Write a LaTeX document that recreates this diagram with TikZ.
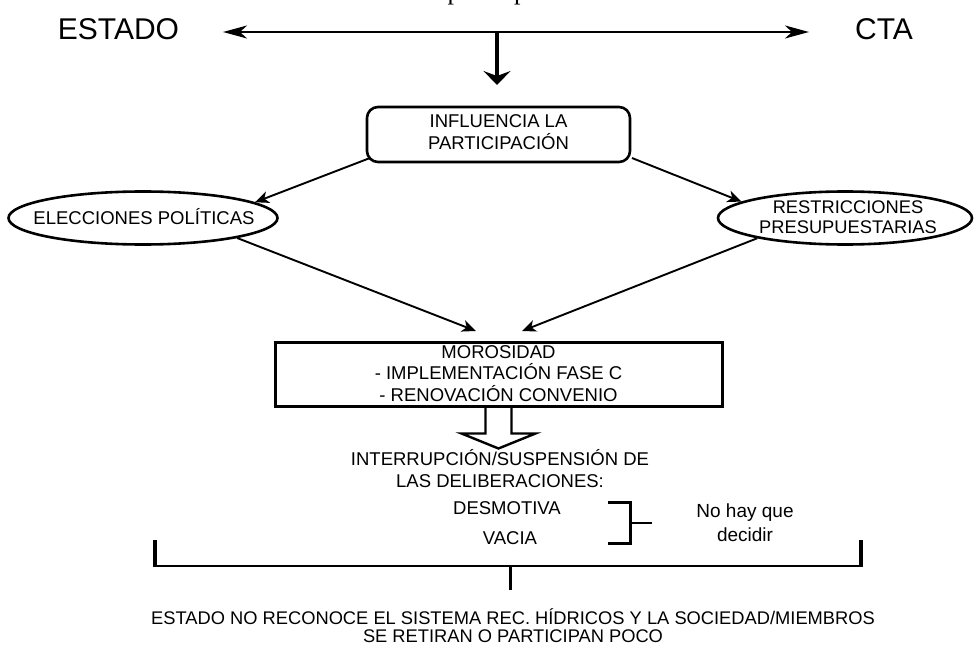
\documentclass[tikz,border=0pt]{standalone}
\usepackage{fontspec}
\setmainfont{Liberation Sans}
\newfontfamily\seriffont{Liberation Serif}
\usetikzlibrary{arrows.meta,shapes.geometric,calc}
\tikzset{
  txt/.style={inner sep=0pt, align=center, font=\fontsize{18.5}{22}\selectfont},
  capline/.style={text height=13.2pt, text depth=0pt},
  bigtxt/.style={inner sep=0pt, font=\fontsize{30}{30}\selectfont, text height=21.5pt, text depth=0pt},
  ln/.style={line width=2.2pt, draw=black},
  hhead/.tip={Stealth[length=24pt,width=13pt,inset=7pt]},
  vhead/.tip={Stealth[length=14pt,width=27pt,inset=5pt]},
  arr/.style={ln, line width=1.9pt, -{Stealth[length=14pt,width=12pt,inset=4pt]}},
  rbox/.style={ln, line width=2.6pt, rounded corners=11pt, minimum width=263pt, minimum height=55pt, inner sep=0pt},
  ell/.style={ln, line width=2.6pt, ellipse, inner sep=0pt},
  sqbox/.style={ln, line width=3pt, minimum width=447pt, minimum height=64pt, inner sep=0pt},
  brk/.style={ln, line width=3pt}
}
\begin{document}
\begin{tikzpicture}[x=1pt,y=-1pt]
\useasboundingbox (0,0) rectangle (974,647);
\begin{scope}
\clip (0,0) rectangle (974,647);
\node[anchor=base west, inner sep=0pt, font=\seriffont\fontsize{26}{26}\selectfont] (ptop) at (447.4,0) {participación};
\end{scope}
% top line
\node[bigtxt] (estado) at (118.5,29) {ESTADO};
\node[bigtxt] (cta) at (884,29) {CTA};
\coordinate (al) at (223,32);
\coordinate (ar) at (809,32);
\coordinate (am) at (497,32);
\coordinate (ad) at (497,85);
\draw[ln, line width=2.2pt, {hhead}-{hhead}] (al) -- (ar);
\draw[ln, line width=4pt, -{vhead}] (am) -- (ad);
% influence box
\node[rbox, draw] (infl) at (498.5,134.5) {};
\node[txt] (infltxt) at (498.5,132.4) {INFLUENCIA LA\\PARTICIPACIÓN};
% ellipses
\node[ell, draw, minimum width=269pt, minimum height=53pt] (elec) at (143,218) {};
\node[txt, capline] (electxt) at (144,218) {ELECCIONES POLÍTICAS};
\node[ell, draw, minimum width=254pt, minimum height=53pt] (rest) at (845,218) {};
\node[txt, font=\fontsize{18.3}{20}\selectfont] (resttxt) at (848,217) {RESTRICCIONES\\PRESUPUESTARIAS};
\coordinate (i1) at (370,158);
\coordinate (i2) at (632,158);
\draw[arr] (i1) -- (elec.8);
\draw[arr] (i2) -- (rest.171);
% morosidad
\node[sqbox, draw] (moro) at (498.5,374) {};
\node[txt, font=\fontsize{18.5}{21.5}\selectfont] (morotxt) at (498.5,373.5) {MOROSIDAD\\- IMPLEMENTACIÓN FASE C\\- RENOVACIÓN CONVENIO};
\coordinate (m1) at (476,331);
\coordinate (m2) at (522,331);
\draw[arr] (elec.-12) -- (m1);
\draw[arr] (rest.193) -- (m2);
% hollow block arrow
\draw[ln, line width=2.4pt, line join=miter] (moro.south) ++(-13,0) -- ++(0,26) -- ++(-24,0) -- ++(37,15) -- ++(37,-15) -- ++(-24,0) -- ++(0,-26);
\node[txt] (inter) at (500,469) {INTERRUPCIÓN/SUSPENSIÓN DE\\LAS DELIBERACIONES:};
\node[txt, capline] (desm) at (507,508) {DESMOTIVA};
\node[txt, capline] (vacia) at (510,538) {VACIA};
% small bracket
\coordinate (b1) at (608,502);
\coordinate (b2) at (630,502);
\coordinate (b3) at (630,543);
\coordinate (b4) at (608,543);
\coordinate (bm) at (630,523);
\coordinate (bt) at (652,523);
\draw[brk] (b1) -- (b2) -- (b3) -- (b4);
\draw[ln] (bm) -- (bt);
\node[txt, font=\fontsize{19}{24}\selectfont] (nohay) at (745,523) {No hay que\\decidir};
% big bracket
\coordinate (L1) at (155,540);
\coordinate (L2) at (155,566);
\coordinate (R1) at (861,540);
\coordinate (R2) at (861,566);
\coordinate (S1) at (510,566);
\coordinate (S2) at (510,590);
\draw[ln, line width=2.4pt] (L2) -- (R2);
\draw[brk, line width=3.6pt] (L1) -- ($(L2)+(0,1.2)$);
\draw[brk, line width=3.6pt] (R1) -- ($(R2)+(0,1.2)$);
\draw[brk] (S1) -- (S2);
\node[txt, font=\fontsize{18.3}{18.5}\selectfont] (final) at (513,625.5) {ESTADO NO RECONOCE EL SISTEMA REC. HÍDRICOS Y LA SOCIEDAD/MIEMBROS\\SE RETIRAN O PARTICIPAN POCO};
\end{tikzpicture}
\end{document}
